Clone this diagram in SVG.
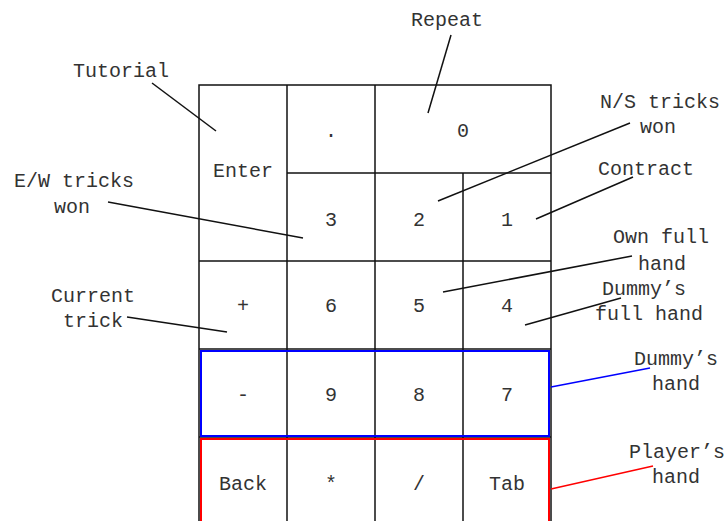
<svg xmlns="http://www.w3.org/2000/svg" width="726" height="521" viewBox="0 0 726 521">
<style>
text{font-family:"Liberation Mono","Courier New",monospace;font-size:20px;fill:#333;text-anchor:middle}
.cell{fill:none;stroke:#111;stroke-width:1.5}
.ln{stroke:#111;stroke-width:1.5;fill:none}
</style>
<rect width="726" height="521" fill="#fff"/>
<g id="keypad">
<rect class="cell" x="199" y="85" width="352" height="460"/>
<line class="ln" x1="287" y1="85" x2="287" y2="530"/>
<line class="ln" x1="375" y1="85" x2="375" y2="530"/>
<line class="ln" x1="463" y1="173" x2="463" y2="530"/>
<line class="ln" x1="287" y1="173" x2="551" y2="173"/>
<line class="ln" x1="199" y1="261" x2="551" y2="261"/>
<line class="ln" x1="199" y1="349" x2="551" y2="349"/>
<line class="ln" x1="199" y1="437" x2="551" y2="437"/>
</g>
<g id="k-enter"><text x="243" y="177">Enter</text></g>
<g id="k-dot"><text x="331" y="137">.</text></g>
<g id="k-0"><text x="463" y="137">0</text></g>
<g id="k-3"><text x="331" y="226">3</text></g>
<g id="k-2"><text x="419" y="226">2</text></g>
<g id="k-1"><text x="507" y="226">1</text></g>
<g id="k-plus"><text x="243" y="312">+</text></g>
<g id="k-6"><text x="331" y="312">6</text></g>
<g id="k-5"><text x="419" y="312">5</text></g>
<g id="k-4"><text x="507" y="312">4</text></g>
<g id="k-minus"><text x="243" y="401">-</text></g>
<g id="k-9"><text x="331" y="401">9</text></g>
<g id="k-8"><text x="419" y="401">8</text></g>
<g id="k-7"><text x="507" y="401">7</text></g>
<g id="k-back"><text x="243" y="490">Back</text></g>
<g id="k-star"><text x="331" y="490">*</text></g>
<g id="k-slash"><text x="419" y="490">/</text></g>
<g id="k-tab"><text x="507" y="490">Tab</text></g>
<g id="dummy-row"><rect x="201" y="351" width="348" height="85" fill="none" stroke="#0000ff" stroke-width="2"/></g>
<g id="player-row"><rect x="201" y="439" width="348" height="95" fill="none" stroke="#ff0000" stroke-width="2"/></g>
<g id="l-tutorial"><text x="121" y="77">Tutorial</text></g>
<g id="l-repeat"><text x="447" y="26">Repeat</text></g>
<g id="l-ew"><text x="74" y="187">E/W tricks</text><text x="72" y="213">won</text></g>
<g id="l-ns"><text x="660" y="108">N/S tricks</text><text x="658" y="133">won</text></g>
<g id="l-contract"><text x="646" y="175">Contract</text></g>
<g id="l-own"><text x="661" y="243">Own full</text><text x="662" y="270">hand</text></g>
<g id="l-dummyfull"><text x="644" y="295">Dummy’s</text><text x="649" y="320">full hand</text></g>
<g id="l-current"><text x="93" y="302">Current</text><text x="93" y="327">trick</text></g>
<g id="l-dummy"><text x="676" y="365">Dummy’s</text><text x="676" y="390">hand</text></g>
<g id="l-player"><text x="677" y="458">Player’s</text><text x="676" y="483">hand</text></g>
<g id="connectors">
<line class="ln" x1="152" y1="83" x2="216" y2="131"/>
<line class="ln" x1="451" y1="35" x2="428" y2="113"/>
<line class="ln" x1="108" y1="202" x2="303" y2="238"/>
<line class="ln" x1="630" y1="123" x2="438" y2="201"/>
<line class="ln" x1="633" y1="177" x2="536" y2="219"/>
<line class="ln" x1="632" y1="256" x2="443" y2="292"/>
<line class="ln" x1="621" y1="298" x2="525" y2="325"/>
<line class="ln" x1="127" y1="317" x2="227" y2="332"/>
<line x1="650" y1="368" x2="551" y2="387" stroke="#0000ff" stroke-width="1.5"/>
<line x1="653" y1="466" x2="551" y2="489" stroke="#ff0000" stroke-width="1.5"/>
</g>
</svg>
